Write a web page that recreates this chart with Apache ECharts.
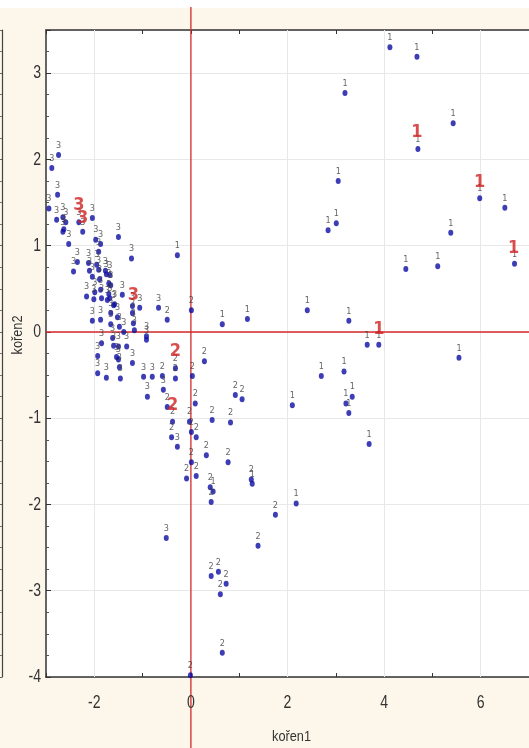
<!DOCTYPE html>
<html><head><meta charset="utf-8">
<script src="https://cdn.jsdelivr.net/npm/echarts@6/dist/echarts.min.js"></script>
<style>
html,body{margin:0;padding:0;background:#fff;}
#c{width:529px;height:748px;background:linear-gradient(#fff 0,#fff 8px,#fcf7ea 8px,#fcf7ea 100%);}
</style></head>
<body><div id="c"></div>
<script>
// Group 1 points [koren1, koren2]
const group1 = [
 [4.12,3.30],[4.68,3.19],[3.19,2.77],[3.05,1.75],[5.43,2.42],[4.70,2.12],[5.98,1.55],[6.50,1.44],
 [2.84,1.18],[3.01,1.26],[5.38,1.15],[4.45,0.73],[5.11,0.76],[6.70,0.79],[-0.28,0.89],[0.65,0.09],
 [1.17,0.15],[2.41,0.25],[3.27,0.13],[3.65,-0.15],[3.89,-0.15],[5.55,-0.30],[2.70,-0.51],[3.17,-0.46],
 [3.34,-0.75],[3.21,-0.83],[3.27,-0.94],[2.10,-0.85],[3.69,-1.30],[2.18,-1.99],[0.46,-1.85],[1.27,-1.76]
];
// Group 2 points
const group2 = [
 [0.01,0.25],[-0.49,0.14],[0.28,-0.34],[0.03,-0.51],[-0.59,-0.51],[-0.32,-0.42],[-0.32,-0.54],[-0.49,-0.87],
 [0.09,-0.83],[-0.38,-1.04],[-0.40,-1.22],[-0.03,-1.04],[0.01,-1.16],[0.11,-1.22],[0.44,-1.02],[0.82,-1.05],
 [0.92,-0.73],[1.06,-0.78],[0.32,-1.43],[0.77,-1.51],[0.01,-1.51],[-0.09,-1.70],[0.11,-1.67],[0.40,-1.80],
 [0.42,-1.97],[1.25,-1.71],[1.75,-2.12],[1.39,-2.48],[0.42,-2.83],[0.57,-2.78],[0.73,-2.92],[0.61,-3.04],
 [0.65,-3.72],[-0.01,-3.98]
];
// Group 3 points
const group3 = [
 [-2.88,1.90],[-2.74,2.05],[-2.76,1.59],[-2.94,1.43],[-2.78,1.30],[-2.65,1.33],[-2.59,1.27],[-2.63,1.19],
 [-2.65,1.16],[-2.53,1.02],[-2.32,1.27],[-2.24,1.16],[-2.04,1.32],[-1.97,1.07],[-1.87,1.02],[-1.91,0.93],
 [-1.50,1.10],[-1.23,0.85],[-2.43,0.70],[-2.35,0.81],[-2.12,0.80],[-1.95,0.78],[-2.10,0.71],[-2.04,0.64],
 [-1.91,0.72],[-1.89,0.61],[-1.77,0.71],[-1.75,0.67],[-1.68,0.66],[-1.66,0.54],[-2.16,0.41],[-1.99,0.46],
 [-1.87,0.49],[-1.85,0.39],[-1.70,0.56],[-1.70,0.44],[-1.68,0.39],[-1.58,0.32],[-1.42,0.43],[-1.21,0.30],
 [-1.06,0.28],[-0.67,0.28],[-2.04,0.13],[-1.87,0.14],[-1.66,0.22],[-1.66,0.09],[-1.52,0.17],[-1.48,0.06],
 [-1.39,0.00],[-1.21,0.22],[-1.19,0.10],[-1.17,0.02],[-0.92,-0.05],[-0.92,-0.09],[-1.85,-0.13],[-1.93,-0.28],
 [-1.93,-0.48],[-1.62,-0.07],[-1.60,-0.16],[-1.50,-0.17],[-1.54,-0.29],[-1.50,-0.32],[-1.33,-0.17],[-1.21,-0.36],
 [-0.98,-0.52],[-0.80,-0.52],[-1.75,-0.53],[-1.46,-0.54],[-1.48,-0.41],[-0.57,-0.67],[-0.90,-0.75],[-0.28,-1.33],
 [-0.51,-2.39],[-2.01,0.38],[-1.60,0.31],[-1.73,0.37]
];
// Red group markers [koren1, koren2, group]
const centroids = [
 [4.68,2.31,'1'],[5.98,1.73,'1'],[6.68,0.97,'1'],[3.89,0.03,'1'],
 [-0.32,-0.23,'2'],[-0.38,-0.85,'2'],
 [-2.32,1.47,'3'],[-2.24,1.32,'3'],[-1.19,0.42,'3']
];
const xTickLabels = [-2, 0, 2, 4, 6];
const yTickLabels = [-4, -3, -2, -1, 0, 1, 2, 3];
const xGridLines = [-2, 2, 4, 6];
const xName = 'kořen1', yName = 'kořen2';

const FONT = "'Liberation Sans Narrow','DejaVu Sans Condensed',sans-serif";
const chart = echarts.init(document.getElementById('c'), null, {renderer:'canvas'});
function pts(data, lab){
  return {
    type:'scatter', data:data, symbol:'circle', symbolSize:[5,6],
    itemStyle:{color:'#0c0ca4'}, z:5,
    label:{show:true, formatter:lab, position:'top', distance:2, fontSize:9,
      color:'#3c3c3c', fontFamily:FONT}
  };
}
const axisLine = {show:true, onZero:false, lineStyle:{color:'#333', width:1.5}};
const option = {
  animation:false,
  grid:{left:46, top:30, width:484, bottom:71, show:true, backgroundColor:'#fff', borderWidth:0},
  xAxis:[
    {type:'value', min:-3, max:7, interval:1, position:'bottom',
     axisLine:axisLine, axisTick:{inside:true, length:4, lineStyle:{color:'#333'}},
     axisLabel:{show:false}, splitLine:{show:false}},
    {type:'value', min:-3, max:7, interval:1, position:'top',
     axisLine:axisLine, axisTick:{inside:true, length:4, lineStyle:{color:'#333'}},
     axisLabel:{show:false}, splitLine:{show:false}}
  ],
  yAxis:[
    {type:'value', min:-4, max:3.5, interval:1, position:'left',
     axisLine:axisLine, axisTick:{inside:true, length:5, lineStyle:{color:'#333'}},
     minorTick:{show:true, splitNumber:4, length:3, lineStyle:{color:'#555'}},
     axisLabel:{show:false},
     splitLine:{show:true, lineStyle:{color:'#e8e8e8', width:1}}},
    {type:'value', min:-4, max:3.5, interval:1, position:'left', offset:44,
     axisLine:{show:true, onZero:false, lineStyle:{color:'#444', width:1.2}},
     axisTick:{inside:false, length:3, lineStyle:{color:'#666'}},
     minorTick:{show:true, splitNumber:4, length:2, lineStyle:{color:'#777'}},
     axisLabel:{show:false}, splitLine:{show:false}}
  ],
  series:[
    {type:'scatter', data:[], silent:true, z:1,
     markLine:{silent:true, symbol:'none', label:{show:false},
       lineStyle:{color:'#e8e8e8', width:1, type:'solid'},
       data:xGridLines.map(v=>({xAxis:v}))}},
    {type:'scatter', data:[], silent:true, z:3,
     markLine:{silent:true, symbol:'none', label:{show:false},
       lineStyle:{color:'#d42a2a', width:1.5, type:'solid'},
       data:[{yAxis:0}]}},
    pts(group3,'3'), pts(group2,'2'), pts(group1,'1'),
    {type:'scatter', data:centroids, symbolSize:1, itemStyle:{color:'rgba(0,0,0,0)'}, z:10,
     label:{show:true, position:'inside', formatter:p=>p.data[2], fontSize:18, fontWeight:'bold',
       color:'#d02020', fontFamily:FONT}}
  ]
};
chart.setOption(option);
const x0 = chart.convertToPixel({xAxisIndex:0}, 0);
const xL = chart.convertToPixel({xAxisIndex:0}, -3);
const xR = chart.convertToPixel({xAxisIndex:0}, 7);
const yB = chart.convertToPixel({yAxisIndex:0}, -4);
const SX = 0.74;
const g = [
  {type:'line', z:4, shape:{x1:x0, y1:7, x2:x0, y2:748}, style:{stroke:'#d42a2a', lineWidth:1.3}},
  {type:'text', z:5, x:(xL+xR)/2 + 4, y:737, scaleX:0.85, style:{text:xName, font:"15px sans-serif", fill:'#333', align:'center', verticalAlign:'middle'}},
  {type:'text', z:5, x:18, y:335, rotation:Math.PI/2, scaleX:0.85, style:{text:yName, font:"15px sans-serif", fill:'#333', align:'center', verticalAlign:'middle'}}
];
xTickLabels.forEach(v=>{
  g.push({type:'text', z:5, x:chart.convertToPixel({xAxisIndex:0}, v), y:yB+26, scaleX:SX,
    style:{text:String(v), font:"19px sans-serif", fill:'#333', align:'center', verticalAlign:'middle'}});
});
yTickLabels.forEach(v=>{
  g.push({type:'text', z:5, x:xL-5, y:chart.convertToPixel({yAxisIndex:0}, v), scaleX:SX,
    style:{text:String(v), font:"19px sans-serif", fill:'#333', align:'right', verticalAlign:'middle'}});
});
chart.setOption({graphic:g});
</script>
</body></html>
